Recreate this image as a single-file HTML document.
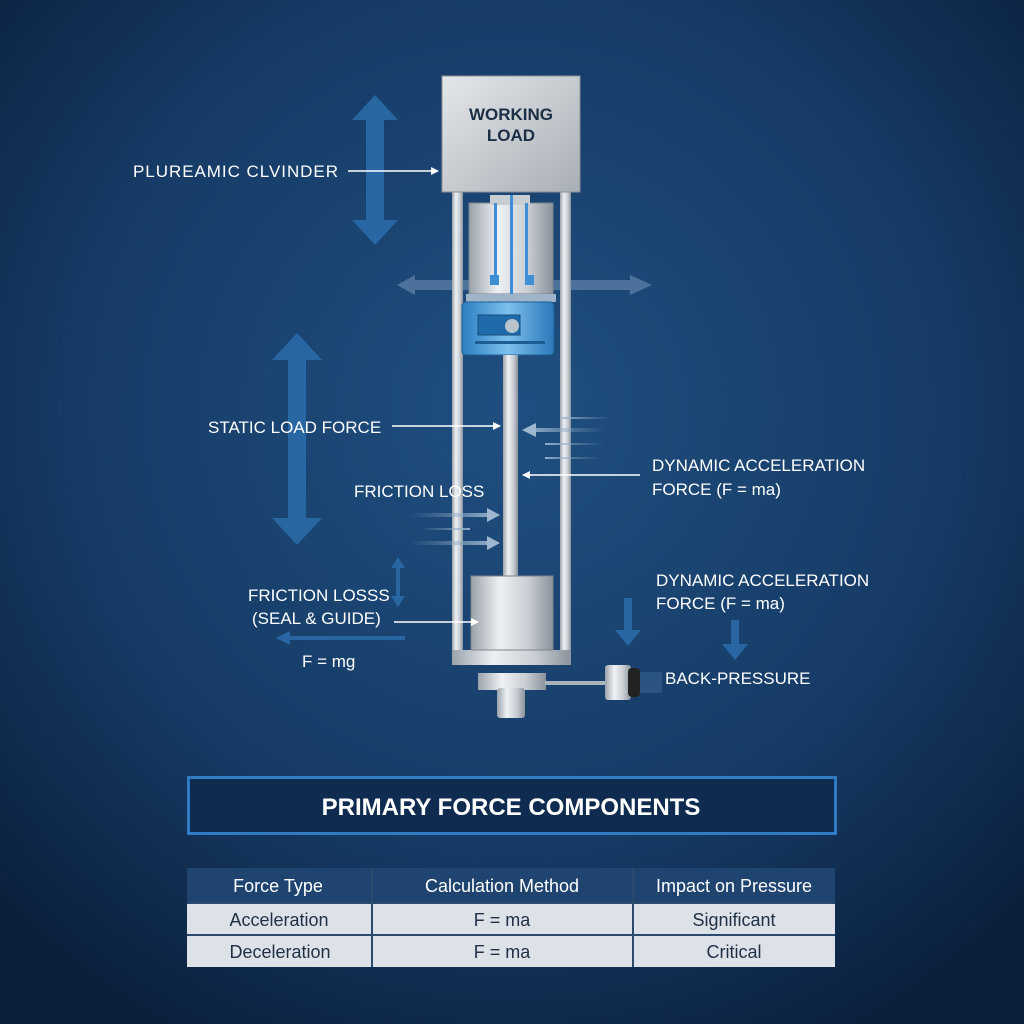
<!DOCTYPE html>
<html><head><meta charset="utf-8"><style>
html,body{margin:0;padding:0;width:1024px;height:1024px;overflow:hidden;background:#0f2a4c}
svg{display:block}
text{font-family:"Liberation Sans",sans-serif}
</style></head><body>
<svg width="1024" height="1024" viewBox="0 0 1024 1024" xmlns="http://www.w3.org/2000/svg">
<defs>
<radialGradient id="bg" cx="50%" cy="40%" r="70%">
<stop offset="0" stop-color="#1f4f80"/><stop offset="0.6" stop-color="#163b66"/><stop offset="1" stop-color="#0b1f3c"/>
</radialGradient>
<linearGradient id="metal" x1="0" x2="1" y1="0" y2="0">
<stop offset="0" stop-color="#9aa2ab"/><stop offset="0.35" stop-color="#eef1f4"/><stop offset="0.7" stop-color="#c9ced4"/><stop offset="1" stop-color="#8a929b"/>
</linearGradient>
<linearGradient id="box" x1="0" x2="1" y1="0" y2="1">
<stop offset="0" stop-color="#e4e7ea"/><stop offset="1" stop-color="#a9afb6"/>
</linearGradient>
<linearGradient id="blue" x1="0" x2="1">
<stop offset="0" stop-color="#2c7fc0"/><stop offset="0.5" stop-color="#7cc0ee"/><stop offset="1" stop-color="#2a78b8"/>
</linearGradient>
<linearGradient id="fadeR" x1="0" x2="1" y1="0" y2="0"><stop offset="0" stop-color="#7f9fbf" stop-opacity="0"/><stop offset="1" stop-color="#9fb8d0" stop-opacity="0.9"/></linearGradient>
<linearGradient id="fadeL" x1="1" x2="0" y1="0" y2="0"><stop offset="0" stop-color="#7f9fbf" stop-opacity="0"/><stop offset="1" stop-color="#9fb8d0" stop-opacity="0.9"/></linearGradient>
<marker id="ah" markerWidth="8" markerHeight="8" refX="7" refY="4" orient="auto" markerUnits="userSpaceOnUse"><path d="M0,0 L8,4 L0,8 z" fill="#fff"/></marker>
</defs>
<rect width="1024" height="1024" fill="url(#bg)"/>

<g fill="#2a6aa8" opacity="0.9">
<path d="M375,95 L398,120 L384,120 L384,220 L398,220 L375,245 L352,220 L366,220 L366,120 L352,120 z"/>
<path d="M297,333 L322,360 L306,360 L306,518 L322,518 L297,545 L272,518 L288,518 L288,360 L272,360 z"/>
<path d="M398,557 L405,568 L400,568 L400,596 L405,596 L398,607 L391,596 L396,596 L396,568 L391,568 z"/>
<path d="M624,598 L632,598 L632,630 L641,630 L628,646 L615,630 L624,630 z"/>
<path d="M731,620 L739,620 L739,644 L748,644 L735,660 L722,644 L731,644 z"/>
<rect x="285" y="636" width="120" height="4"/>
<path d="M276,638 L290,631 L290,645 z"/>
</g>
<path d="M397,285 L415,275 L415,280 L630,280 L630,275 L652,285 L630,295 L630,290 L415,290 L415,295 z" fill="#6d90b4" opacity="0.6"/>

<rect x="452" y="190" width="11" height="470" fill="url(#metal)"/>
<rect x="560" y="190" width="11" height="470" fill="url(#metal)"/>
<rect x="452" y="650" width="119" height="15" fill="url(#metal)"/>
<rect x="469" y="203" width="84" height="91" fill="url(#metal)" stroke="#7d858e"/>
<rect x="490" y="195" width="40" height="10" fill="#c8cdd2"/>
<rect x="494" y="203" width="3" height="75" fill="#3d8fd6"/>
<rect x="510" y="195" width="3" height="100" fill="#3d8fd6"/>
<rect x="525" y="203" width="3" height="75" fill="#3d8fd6"/>
<rect x="490" y="275" width="9" height="10" fill="#3d8fd6"/>
<rect x="525" y="275" width="9" height="10" fill="#3d8fd6"/>
<rect x="466" y="294" width="90" height="8" fill="#9fb4c8"/>
<rect x="462" y="302" width="92" height="53" rx="4" fill="url(#blue)" stroke="#1e5d94"/>
<rect x="478" y="315" width="42" height="20" fill="#1f6aa8" stroke="#154d80"/>
<circle cx="512" cy="326" r="7" fill="#b9c3cc"/>
<rect x="475" y="341" width="70" height="3" fill="#1e5d94"/>
<rect x="503" y="355" width="15" height="222" fill="url(#metal)"/>
<rect x="471" y="576" width="82" height="74" fill="url(#metal)" stroke="#7d858e"/>
<rect x="478" y="673" width="68" height="17" fill="url(#metal)"/>
<rect x="497" y="688" width="28" height="30" rx="3" fill="url(#metal)"/>
<rect x="545" y="681" width="62" height="4" fill="#aab2ba"/>
<rect x="605" y="665" width="26" height="35" rx="3" fill="url(#metal)"/>
<rect x="628" y="668" width="12" height="29" rx="4" fill="#222"/>
<rect x="640" y="672" width="22" height="21" fill="#3e6a94" opacity="0.5"/>

<rect x="442" y="76" width="138" height="116" fill="url(#box)" stroke="#8a9098"/>
<text x="511" y="120" font-size="17" font-weight="bold" fill="#1b2e44" text-anchor="middle">WORKING</text>
<text x="511" y="141" font-size="17" font-weight="bold" fill="#1b2e44" text-anchor="middle">LOAD</text>

<rect x="530" y="428" width="75" height="4" fill="url(#fadeL)"/>
<rect x="560" y="417" width="50" height="2" fill="url(#fadeL)"/>
<rect x="545" y="443" width="60" height="2" fill="url(#fadeL)"/>
<rect x="545" y="457" width="55" height="2" fill="url(#fadeL)"/>
<rect x="410" y="513" width="80" height="4" fill="url(#fadeR)"/>
<rect x="420" y="528" width="50" height="2" fill="url(#fadeR)"/>
<rect x="410" y="541" width="80" height="4" fill="url(#fadeR)"/>
<path d="M522,430 L536,423 L536,437 z" fill="#9fb8d0"/>
<path d="M500,515 L487,508 L487,522 z" fill="#9fb8d0"/>
<path d="M500,543 L487,536 L487,550 z" fill="#9fb8d0"/>

<g stroke="#fff" stroke-width="1.5" fill="none">
<line x1="348" y1="171" x2="438" y2="171" marker-end="url(#ah)"/>
<line x1="392" y1="426" x2="500" y2="426" marker-end="url(#ah)"/>
<line x1="640" y1="475" x2="523" y2="475" marker-end="url(#ah)"/>
<line x1="394" y1="622" x2="478" y2="622" marker-end="url(#ah)"/>
</g>

<g fill="#fff" font-size="17">
<text x="133" y="177" textLength="205">PLUREAMIC CLVINDER</text>
<text x="208" y="433">STATIC LOAD FORCE</text>
<text x="354" y="497">FRICTION LOSS</text>
<text x="652" y="471">DYNAMIC ACCELERATION</text>
<text x="652" y="495">FORCE (F = ma)</text>
<text x="248" y="601">FRICTION LOSSS</text>
<text x="252" y="624">(SEAL &amp; GUIDE)</text>
<text x="302" y="667">F = mg</text>
<text x="656" y="586">DYNAMIC ACCELERATION</text>
<text x="656" y="609">FORCE (F = ma)</text>
<text x="665" y="684">BACK-PRESSURE</text>
</g>

<rect x="188.5" y="777.5" width="647" height="56" fill="#0f2c50" stroke="#2f7cc2" stroke-width="3"/>
<text x="511" y="815" font-size="24" font-weight="bold" fill="#fff" text-anchor="middle">PRIMARY FORCE COMPONENTS</text>

<rect x="187" y="868" width="648" height="35" fill="#1f4470"/>
<rect x="187" y="903" width="648" height="64" fill="#dde2e8"/>
<line x1="187" y1="935" x2="835" y2="935" stroke="#2a4a70" stroke-width="2"/>
<line x1="187" y1="903" x2="835" y2="903" stroke="#2a4a70" stroke-width="2"/>
<line x1="372" y1="868" x2="372" y2="967" stroke="#2a4a70" stroke-width="2"/>
<line x1="633" y1="868" x2="633" y2="967" stroke="#2a4a70" stroke-width="2"/>
<g font-size="18" text-anchor="middle">
<text x="278" y="892" fill="#fff">Force Type</text>
<text x="502" y="892" fill="#fff">Calculation Method</text>
<text x="734" y="892" fill="#fff">Impact on Pressure</text>
<text x="279" y="926" fill="#1f2f44">Acceleration</text>
<text x="502" y="926" fill="#1f2f44">F = ma</text>
<text x="734" y="926" fill="#1f2f44">Significant</text>
<text x="280" y="958" fill="#1f2f44">Deceleration</text>
<text x="502" y="958" fill="#1f2f44">F = ma</text>
<text x="734" y="958" fill="#1f2f44">Critical</text>
</g>
</svg>
</body></html>
